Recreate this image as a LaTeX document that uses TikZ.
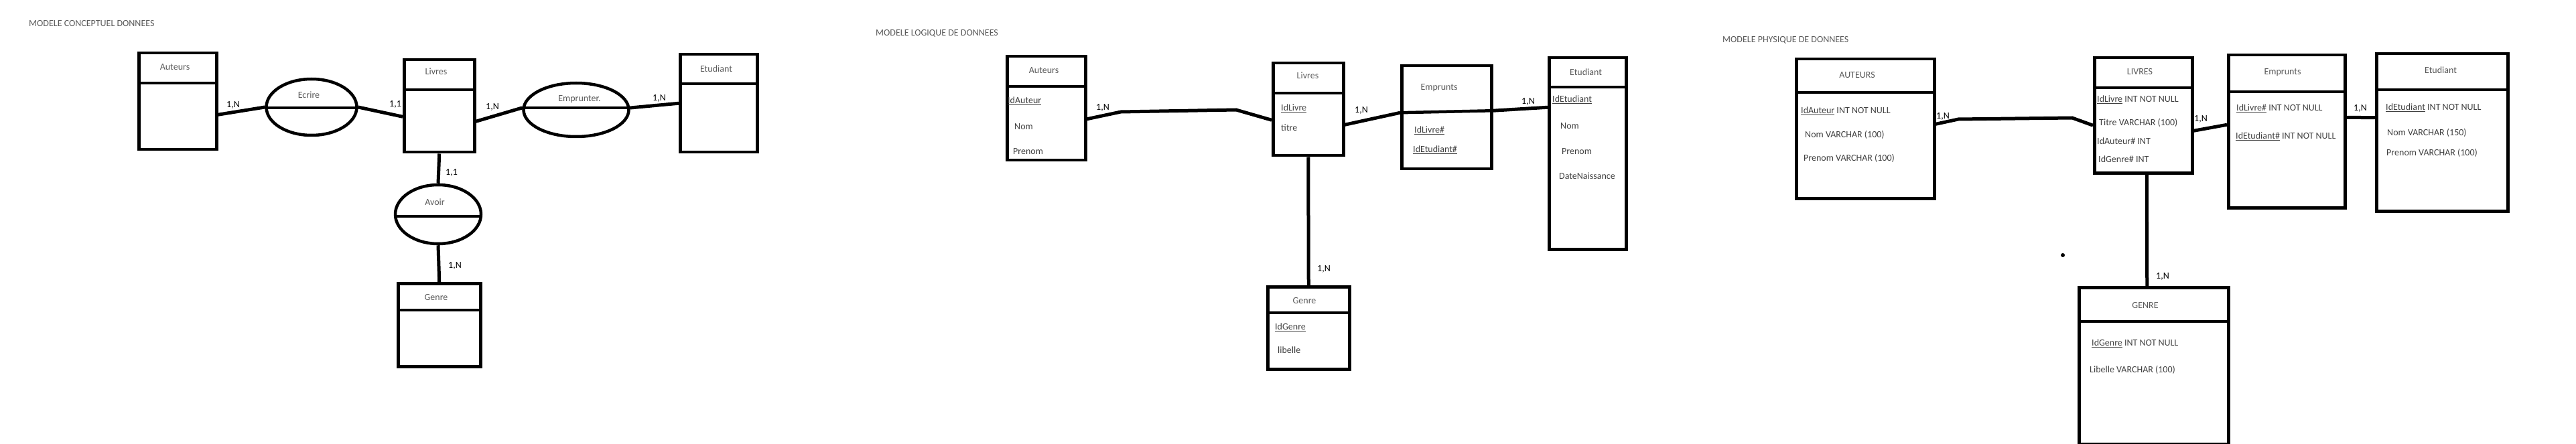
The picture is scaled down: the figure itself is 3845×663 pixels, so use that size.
\documentclass[tikz,border=0pt]{standalone}
\usepackage{fontspec}
\setmainfont{Carlito}
\usetikzlibrary{shapes.geometric}

\begin{document}
\begin{tikzpicture}[x=1pt,y=-1pt,font=\fontsize{14}{17}\selectfont]

  %Styles for picture
  \tikzset
  {
  entity/.style={draw, rectangle, line width=4.5pt, anchor=north west, inner sep=0pt},
  relation/.style={draw, ellipse, line width=4.5pt, inner sep=0pt},
  head/.style={text=black!65, inner sep=0pt},
  attr/.style={text=black!75, anchor=west, inner sep=0pt},
  card/.style={text=black, inner sep=0pt},
  title/.style={text=black!65, anchor=west, inner sep=0pt},
  sep/.style={line width=4.5pt},
  link/.style={line width=5pt},
  }

  \useasboundingbox (0,0) rectangle (3845,663);

  % Conceptual model - nodes
  \node[title] (tc) at (43,35) {MODELE CONCEPTUEL DONNEES};
  \node[entity, minimum width=116pt, minimum height=144pt] (cau) at (205,77) {};
  \node[head] (cauh) at (261,100) {Auteurs};
  \node[entity, minimum width=105pt, minimum height=138pt] (cli) at (601,87) {};
  \node[head] (clih) at (651,107) {Livres};
  \node[entity, minimum width=115pt, minimum height=146pt] (cet) at (1013,79) {};
  \node[head] (ceth) at (1069,103) {Etudiant};
  \node[entity, minimum width=123pt, minimum height=124pt] (cge) at (592,421) {};
  \node[head] (cgeh) at (651,444) {Genre};
  \node[relation, minimum width=135pt, minimum height=84pt] (cec) at (465,160) {};
  \node[head] (cech) at (461,142) {Ecrire};
  \node[relation, minimum width=157pt, minimum height=80pt] (cem) at (860,164) {};
  \node[head] (cemh) at (865,148) {Emprunter.};
  \node[relation, minimum width=128pt, minimum height=88pt] (cav) at (654,320) {};
  \node[head] (cavh) at (649,302) {Avoir};

  \draw[sep] (cau.west |- 0,124) -- (cau.east |- 0,124);
  \draw[sep] (cli.west |- 0,134) -- (cli.east |- 0,134);
  \draw[sep] (cet.west |- 0,125) -- (cet.east |- 0,125);
  \draw[sep] (cge.west |- 0,463) -- (cge.east |- 0,463);
  \draw[sep] ([yshift=-1pt]cec.west) -- ([yshift=-1pt]cec.east);
  \draw[sep] ([yshift=3pt]cem.west) -- ([yshift=3pt]cem.east);
  \draw[sep] ([yshift=-3pt]cav.west) -- ([yshift=-3pt]cav.east);

  % Conceptual model - edges
  \draw[link] ([yshift=-20pt]cau.east) -- (cec.west);
  \draw[link] (cec.east) -- ([yshift=-16pt]cli.west);
  \draw[link] ([yshift=-23pt]cli.east) -- ([yshift=3pt]cem.west);
  \draw[link] ([yshift=3pt]cem.east) -- (cet.west);
  \draw[link] (cli.south) -- (cav.north);
  \draw[link] (cav.south) -- (cge.north);
  \node[card] (c1) at (348,157) {1,N};
  \node[card] (c2) at (590,156) {1,1};
  \node[card] (c3) at (735,160) {1,N};
  \node[card] (c4) at (984,147) {1,N};
  \node[card] (c5) at (674,258) {1,1};
  \node[card] (c6) at (679,397) {1,N};

  % Logical model - nodes
  \node[title] (tl) at (1307,50) {MODELE LOGIQUE DE DONNEES};
  \node[entity, minimum width=117pt, minimum height=155pt] (lau) at (1501,82) {};
  \node[head] (lauh) at (1558,105) {Auteurs};
  \node[attr] (la1) at (1504,151) {\underline{IdAuteur}};
  \node[attr] (la2) at (1514,189) {Nom};
  \node[attr] (la3) at (1512,226) {Prenom};
  \node[entity, minimum width=105pt, minimum height=138pt] (lli) at (1898,92) {};
  \node[head] (llih) at (1952,113) {Livres};
  \node[attr] (ll1) at (1912,162) {\underline{IdLivre}};
  \node[attr] (ll2) at (1912,191) {titre};
  \node[entity, minimum width=134pt, minimum height=154pt] (lem) at (2090,96) {};
  \node[head] (lemh) at (2148,131) {Emprunts};
  \node[attr] (lm1) at (2111,195) {\underline{IdLivre\#}};
  \node[attr] (lm2) at (2109,224) {\underline{IdEtudiant\#}};
  \node[entity, minimum width=115pt, minimum height=286pt] (let) at (2310,84) {};
  \node[head] (leth) at (2367,108) {Etudiant};
  \node[attr] (le1) at (2317,149) {\underline{IdEtudiant}};
  \node[attr] (le2) at (2329,188) {Nom};
  \node[attr] (le3) at (2331,226) {Prenom};
  \node[attr] (le4) at (2327,263) {DateNaissance};
  \node[entity, minimum width=122pt, minimum height=123pt] (lge) at (1890,426) {};
  \node[head] (lgeh) at (1947,449) {Genre};
  \node[attr] (lg1) at (1903,489) {\underline{IdGenre}};
  \node[attr] (lg2) at (1907,523) {libelle};

  \draw[sep] (lau.west |- 0,129) -- (lau.east |- 0,129);
  \draw[sep] (lli.west |- 0,139) -- (lli.east |- 0,139);
  \draw[sep] ([yshift=7pt]lem.west) -- ([yshift=10pt]lem.east); % slanted
  \draw[sep] (let.west |- 0,130) -- (let.east |- 0,130);
  \draw[sep] (lge.west |- 0,467) -- (lge.east |- 0,467);

  % Logical model - edges
  \draw[link] ([yshift=-16pt]lau.east) -- (1673,167) -- (1845,164) -- ([yshift=-16pt]lli.west);
  \draw[link] ([yshift=-23pt]lli.east) -- ([yshift=7pt]lem.west);
  \draw[link] ([yshift=10pt]lem.east) -- ([yshift=69pt]let.west);
  \draw[link] (lli.south) -- (lge.north);
  \node[card] (l1) at (1646,161) {1,N};
  \node[card] (l2) at (2032,165) {1,N};
  \node[card] (l3) at (2281,152) {1,N};
  \node[card] (l4) at (1976,402) {1,N};

  % Physical model - nodes
  \node[title] (tp) at (2571,60) {MODELE PHYSIQUE DE DONNEES};
  \node[entity, minimum width=206pt, minimum height=208pt] (pau) at (2679,86) {};
  \node[head] (pauh) at (2772,112) {AUTEURS};
  \node[attr] (pa1) at (2688,166) {\underline{IdAuteur} INT NOT NULL};
  \node[attr] (pa2) at (2694,201) {Nom VARCHAR (100)};
  \node[attr] (pa3) at (2692,236) {Prenom VARCHAR (100)};
  \node[entity, minimum width=146pt, minimum height=172pt] (pli) at (3124,84) {};
  \node[head] (plih) at (3194,107) {LIVRES};
  \node[attr] (pl1) at (3130,149) {\underline{IdLivre} INT NOT NULL};
  \node[attr] (pl2) at (3133,183) {Titre VARCHAR (100)};
  \node[attr] (pl3) at (3130,211) {IdAuteur\# INT};
  \node[attr] (pl4) at (3132,238) {IdGenre\# INT};
  \node[entity, minimum width=174pt, minimum height=228pt] (pem) at (3324,80) {};
  \node[head] (pemh) at (3407,108) {Emprunts};
  \node[attr] (pm1) at (3338,162) {\underline{IdLivre\#} INT NOT NULL};
  \node[attr] (pm2) at (3337,204) {\underline{IdEtudiant\#} INT NOT NULL};
  \node[entity, minimum width=196pt, minimum height=235pt] (pet) at (3545,78) {};
  \node[head] (peth) at (3643,105) {Etudiant};
  \node[attr] (pe1) at (3561,161) {\underline{IdEtudiant} INT NOT NULL};
  \node[attr] (pe2) at (3563,198) {Nom VARCHAR (150)};
  \node[attr] (pe3) at (3562,228) {Prenom VARCHAR (100)};
  \node[entity, minimum width=223pt, minimum height=234pt] (pge) at (3101,427) {};
  \node[head] (pgeh) at (3202,456) {GENRE};
  \node[attr] (pg1) at (3122,513) {\underline{IdGenre} INT NOT NULL};
  \node[attr] (pg2) at (3119,552) {Libelle VARCHAR (100)};
  \node[circle, fill, inner sep=0pt, minimum size=6pt] (dot) at (3079,381) {};

  \draw[sep] (pau.west |- 0,138) -- (pau.east |- 0,138);
  \draw[sep] (pli.west |- 0,131) -- (pli.east |- 0,131);
  \draw[sep] (pem.west |- 0,137) -- (pem.east |- 0,137);
  \draw[sep] (pet.west |- 0,134) -- (pet.east |- 0,134);
  \draw[sep] (pge.west |- 0,480) -- (pge.east |- 0,480);

  % Physical model - edges
  \draw[link] ([yshift=7pt]pau.east) -- (2923,178) -- (3093,176) -- ([yshift=-15pt]pli.west);
  \draw[link] ([yshift=-23pt]pli.east) -- ([yshift=10pt]pem.west);
  \draw[link] ([yshift=21pt]pem.east) -- ([yshift=22pt]pet.west);
  \draw[link] ([xshift=5pt]pli.south) -- ([xshift=-10pt]pge.north);
  \node[card] (p1) at (2900,174) {1,N};
  \node[card] (p2) at (3285,178) {1,N};
  \node[card] (p3) at (3523,162) {1,N};
  \node[card] (p4) at (3228,413) {1,N};

\end{tikzpicture}
\end{document}
